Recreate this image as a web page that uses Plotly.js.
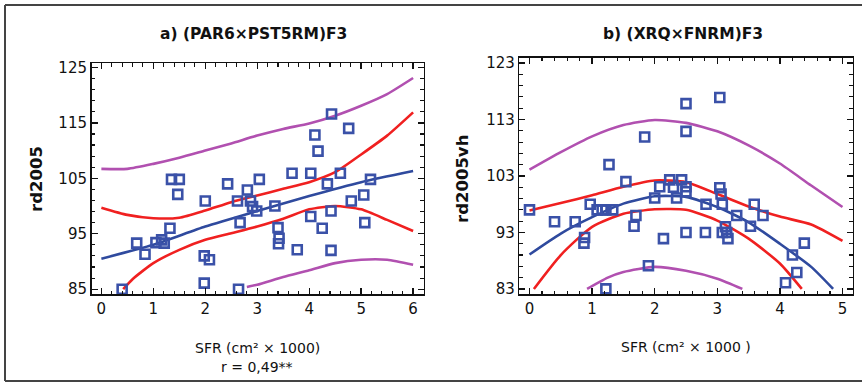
<!DOCTYPE html>
<html>
<head>
<meta charset="utf-8">
<script src="https://cdn.plot.ly/plotly-3.0.1.min.js"></script>
<style>html,body{margin:0;padding:0;background:#fff;}#chart{width:862px;height:383px;}</style>
</head>
<body>
<div id="chart"></div>
<script>
// ---- Panel a) (PAR6×PST5RM)F3 ----
const aPointsX = [0.40,0.68,0.84,1.05,1.16,1.21,1.32,1.35,1.50,1.47,2.00,1.98,2.08,1.98,2.43,2.62,2.67,2.64,2.81,2.87,2.91,2.99,3.04,3.34,3.40,3.42,3.41,3.67,3.77,4.03,4.03,4.11,4.17,4.25,4.35,4.43,4.42,4.42,4.60,4.76,4.81,5.05,5.07,5.18];
const aPointsY = [85.0,93.3,91.3,93.4,93.9,93.3,96.0,104.8,104.8,102.1,100.9,91.0,90.3,86.1,104.0,100.9,97.0,85.0,102.9,100.9,99.9,99.1,104.8,100.0,96.1,94.2,93.2,105.9,92.1,105.9,98.1,112.8,109.9,96.0,104.0,116.6,99.1,92.0,105.9,114.0,100.9,102.0,97.0,104.8];
const aFitX = [0,1,2,3,4,5,6];
const aFitY = [90.5,93.0,96.3,99.1,101.8,104.3,106.3];
const aCiUpX = [0,0.5,1,1.5,2,2.5,3,3.5,4,4.5,5,5.5,6];
const aCiUpY = [99.7,98.4,97.8,97.9,99.2,100.7,101.9,103.1,104.3,106.1,109.3,112.7,116.9];
const aCiLoX = [0.42,0.6,1,1.5,2,2.5,3,3.5,4,4.5,5,5.5,6];
const aCiLoY = [85.0,86.8,89.7,92.1,93.9,95.1,96.3,97.7,99.4,100.0,99.4,97.5,95.5];
const aPrUpX = [0,0.5,1,1.5,2,2.5,3,3.5,4,4.5,5,5.5,6];
const aPrUpY = [106.7,106.7,107.6,108.7,110.0,111.3,112.7,113.9,114.9,116.3,118.1,120.2,123.1];
const aPrLoX = [2.8,3,3.5,4,4.5,5,5.5,6];
const aPrLoY = [85.4,85.8,87.2,88.4,89.7,90.3,90.3,89.4];
const aTicksY = [85,95,105,115,125];

// ---- Panel b) (XRQ×FNRM)F3 ----
const bPointsX = [0.00,0.40,0.73,0.88,0.87,0.97,1.08,1.16,1.22,1.33,1.27,1.22,1.54,1.70,1.67,1.84,1.90,2.08,2.00,2.14,2.24,2.30,2.43,2.35,2.50,2.50,2.50,2.50,2.50,2.82,2.81,3.04,3.04,3.06,3.08,3.08,3.15,3.13,3.17,3.31,3.53,3.59,3.73,4.20,4.39,4.27,4.09];
const bPointsY = [97.0,94.9,94.9,92.1,91.1,98.0,97.0,97.0,97.0,97.0,105.0,83.0,102.0,96.0,94.1,109.9,87.1,101.1,99.1,91.9,102.3,101.0,102.3,99.1,115.8,110.9,101.1,100.2,93.0,98.0,93.0,116.9,100.9,99.8,98.0,93.0,93.0,94.0,91.9,96.0,94.1,98.0,96.0,89.0,91.1,85.9,84.1];
const bFitX = [0,0.5,1,1.5,2,2.5,3,3.5,4,4.5,4.85];
const bFitY = [89.1,92.8,95.7,98.1,99.4,99.3,97.5,94.8,91.0,86.9,83.0];
const bCiUpX = [0,0.5,1,1.5,2,2.5,3,3.5,4,4.5,5];
const bCiUpY = [96.9,98.2,99.6,101.1,102.2,101.9,99.8,97.6,95.8,94.4,91.5];
const bCiLoX = [0.07,0.5,1,1.5,2,2.5,3,3.5,4,4.35];
const bCiLoY = [83.0,89.0,94.0,96.3,97.1,97.0,95.1,91.9,87.5,83.0];
const bPrUpX = [0,0.5,1,1.5,2,2.5,3,3.5,4,4.5,5];
const bPrUpY = [104.1,107.2,110.0,112.0,112.9,112.4,110.9,108.4,105.2,101.3,97.5];
const bPrLoX = [0.92,1.25,1.5,2,2.5,3,3.4];
const bPrLoY = [83.0,85.0,86.0,86.9,86.2,84.8,83.0];
const bTicksY = [83,93,103,113,123];

const BLUE_PT = '#3a51a8', BLUE_LN = '#2f4a9e', RED = '#f02020', MAG = '#b150b0';
const W = 862, H = 383;
const FONT = 'DejaVu Sans, Verdana, sans-serif';

function line(x, y, color, xa, ya) {
  return {x, y, xaxis: xa, yaxis: ya, type: 'scatter', mode: 'lines',
    line: {color, width: 2.6, shape: 'spline', smoothing: 0.6}, hoverinfo: 'skip'};
}
function pts(x, y, xa, ya) {
  return {x, y, xaxis: xa, yaxis: ya, type: 'scatter', mode: 'markers',
    marker: {symbol: 'square-open', size: 9, color: BLUE_PT, line: {width: 2.6, color: BLUE_PT}}};
}

const traces = [
  line(aPrUpX, aPrUpY, MAG, 'x', 'y'), line(aPrLoX, aPrLoY, MAG, 'x', 'y'),
  line(aCiUpX, aCiUpY, RED, 'x', 'y'), line(aCiLoX, aCiLoY, RED, 'x', 'y'),
  line(aFitX, aFitY, BLUE_LN, 'x', 'y'), pts(aPointsX, aPointsY, 'x', 'y'),
  line(bPrUpX, bPrUpY, MAG, 'x2', 'y2'), line(bPrLoX, bPrLoY, MAG, 'x2', 'y2'),
  line(bCiUpX, bCiUpY, RED, 'x2', 'y2'), line(bCiLoX, bCiLoY, RED, 'x2', 'y2'),
  line(bFitX, bFitY, BLUE_LN, 'x2', 'y2'), pts(bPointsX, bPointsY, 'x2', 'y2')
];

function axisBase(extra) {
  return Object.assign({
    showline: true, linecolor: '#111', linewidth: 1.5, mirror: 'ticks',
    ticks: 'inside', ticklen: 6, tickwidth: 1.3, tickcolor: '#111',
    showgrid: false, zeroline: false, fixedrange: true,
    tickfont: {family: FONT, size: 15, color: '#111'}
  }, extra);
}

const layout = {
  width: W, height: H, margin: {l: 0, r: 0, t: 0, b: 0},
  paper_bgcolor: '#fff', plot_bgcolor: '#fff', showlegend: false,
  xaxis: axisBase({domain: [91.5/W, 423.5/W], range: [-0.19, 6.2], tickmode: 'linear', tick0: 0, dtick: 1,
    minor: {dtick: 0.2, ticklen: 3.5, ticks: 'inside', tickcolor: '#111', tickwidth: 1.1}, anchor: 'y'}),
  yaxis: axisBase({domain: [1 - 294/H, 1 - 63/H], range: [84.13, 125.8], tickmode: 'array', tickvals: aTicksY,
    minor: {dtick: 2, tick0: 85, ticklen: 3.5, ticks: 'inside', tickcolor: '#111', tickwidth: 1.1}, anchor: 'x'}),
  xaxis2: axisBase({domain: [519.3/W, 852.7/W], range: [-0.163, 5.163], tickmode: 'linear', tick0: 0, dtick: 1,
    minor: {dtick: 0.2, ticklen: 3.5, ticks: 'inside', tickcolor: '#111', tickwidth: 1.1}, anchor: 'y2'}),
  yaxis2: axisBase({domain: [1 - 294/H, 1 - 57.5/H], range: [82.1, 123.97], tickmode: 'array', tickvals: bTicksY,
    minor: {dtick: 2, tick0: 83, ticklen: 3.5, ticks: 'inside', tickcolor: '#111', tickwidth: 1.1}, anchor: 'x2'}),
  annotations: [
    {text: '<b>a) (PAR6×PST5RM)F3</b>', x: 254/W, y: 1 - 34/H, font: {family: FONT, size: 15.5, color: '#111'}},
    {text: '<b>b) (XRQ×FNRM)F3</b>', x: 683/W, y: 1 - 34/H, font: {family: FONT, size: 15.5, color: '#111'}},
    {text: '<b>rd2005</b>', x: 36/W, y: 1 - 179/H, textangle: -90, font: {family: FONT, size: 16.5, color: '#111'}},
    {text: '<b>rd2005vh</b>', x: 462/W, y: 1 - 179/H, textangle: -90, font: {family: FONT, size: 16.5, color: '#111'}},
    {text: 'SFR (cm² × 1000)', x: 257/W, y: 1 - 348/H, font: {family: FONT, size: 14, color: '#111'}},
    {text: 'r = 0,49**', x: 257/W, y: 1 - 367/H, font: {family: FONT, size: 14, color: '#111'}},
    {text: 'SFR (cm² × 1000 )', x: 686/W, y: 1 - 347/H, font: {family: FONT, size: 14, color: '#111'}}
  ].map(a => Object.assign({xref: 'paper', yref: 'paper', showarrow: false, xanchor: 'center', yanchor: 'middle'}, a)),
  shapes: [
    {type: 'line', xref: 'paper', yref: 'paper', x0: 5/W, x1: 5/W, y0: 1 - 5/H, y1: 1 - 381/H, line: {color: '#444', width: 2}},
    {type: 'line', xref: 'paper', yref: 'paper', x0: 5/W, x1: 1, y0: 1 - 5/H, y1: 1 - 5/H, line: {color: '#444', width: 2}},
    {type: 'line', xref: 'paper', yref: 'paper', x0: 5/W, x1: 1, y0: 1 - 381/H, y1: 1 - 381/H, line: {color: '#444', width: 2}}
  ]
};

Plotly.newPlot('chart', traces, layout, {staticPlot: true, displayModeBar: false});
</script>
</body>
</html>
